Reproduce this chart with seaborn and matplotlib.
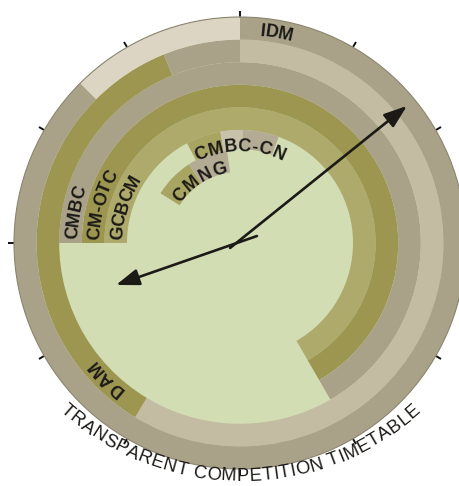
import numpy as np
import matplotlib
matplotlib.use('Agg')
import matplotlib.pyplot as plt
import seaborn as sns
from matplotlib.ft2font import FT2Font
from matplotlib.font_manager import FontProperties, findfont

sns.set_style('white')
plt.rcParams['font.family'] = ['Liberation Sans', 'DejaVu Sans']
plt.rcParams['xtick.top'] = True

# ring segments (radius in ring units, angles in degrees clockwise from 12 o'clock)
seg_inner = [5, 6, 7, 8, 8, 8, 9, 9, 4.15, 4.15, 4.15, 3.15, 3.15]
seg_outer = [6, 7, 8, 9, 9, 9, 10, 10, 5, 5, 5, 4.15, 4.15]
seg_start = [270, 270, 270, 211, 338, 0, 0, 315, -28, -10, 1.5, -58, -33]
seg_end = [510, 510, 510, 338, 360, 211, 315, 360, -10, 1.5, 20, -33, -8]
seg_tone = ['light olive', 'olive', 'tan', 'olive', 'tan', 'beige', 'tan', 'pale',
            'box olive', 'box light', 'box tan', 'box olive', 'box tan']

# labels written along the rings
lab_text = ['GCBCM', 'CM-OTC', 'CMBC', 'DAM', 'IDM', 'CMBC-CN', 'CMNG']
lab_r = [5.5, 6.5, 7.5, 8.5, 9.5, 4.36, 3.45]
lab_start = [271.5, 271.5, 271.5, 218, 5.5, -27.5, -57]
lab_track = [0, 0, 0, 1.5, 0, 1.2, 2.5]

title = 'TRANSPARENT COMPETITION TIMETABLE'

# clock hands (tail -> tip)
hand_tail_deg = [67.6, 243.4]
hand_tail_r = [0.81, 0.49]
hand_tip_deg = [251.3, 50.6]
hand_tip_r = [5.79, 9.56]

tones = {
    'light olive': '#adaa6b',
    'olive': '#9c9651',
    'tan': '#aaa288',
    'beige': '#c3bba2',
    'pale': '#ddd5c4',
    'box olive': '#a8a563',
    'box light': '#c9c2ab',
    'box tan': '#b3ab94',
}
ink = '#1c1a17'

W, H = 460, 486
fig = plt.figure(figsize=(W / 100, H / 100), dpi=100)
ax = fig.add_axes([14/W, 17/H, 452/W, 452/H], projection='polar')
ax.set_theta_zero_location('N')
ax.set_theta_direction(-1)
ax.set_facecolor('#d3ddb4')
PX = 226 / 10.0


def advances(text, size, weight):
    font = FT2Font(findfont(FontProperties(family='Liberation Sans', weight=weight)))
    font.set_size(size, 100)
    return np.array([font.load_char(ord(c)).linearHoriAdvance / 65536 for c in text])


def arc_text(text, start, r, size=13, weight='bold', track=0.0):
    adv = advances(text, size, weight) + track
    centers = np.cumsum(adv) - adv / 2
    r_px = r * PX
    cap = 0.716 * size * 100 / 72
    base = (r_px - cap / 2) / PX
    ang = start + np.degrees(centers / r_px)
    for ch, a in zip(text, ang):
        ax.text(np.deg2rad(a), base, ch, rotation=-a, rotation_mode='anchor',
                ha='center', va='baseline', fontsize=size, fontweight=weight,
                color=ink, zorder=5)


for ri, ro, s, e, t in zip(seg_inner, seg_outer, seg_start, seg_end, seg_tone):
    ax.bar(np.deg2rad((s + e) / 2), ro - ri, width=np.deg2rad(e - s), bottom=ri,
           color=tones[t], edgecolor='none', linewidth=0, zorder=2)

for txt, r, s, tr in zip(lab_text, lab_r, lab_start, lab_track):
    arc_text(txt, s, r, track=tr)

# curved title below the dial (its own, flatter arc; pixel units from top-left)
t_size = 13.2
t_adv = advances(title, t_size, 'normal') + 0.3
t_cx, t_cy, t_R = 240.5, 212.5, 262
t_cap = 0.716 * t_size * 100 / 72
t_pos = np.cumsum(t_adv) - t_adv / 2 - t_adv.sum() / 2
for ch, s in zip(title, t_pos):
    a = s / t_R
    x = t_cx + (t_R + t_cap / 2) * np.sin(a)
    y = t_cy + (t_R + t_cap / 2) * np.cos(a)
    fig.text(x / W, 1 - y / H, ch, rotation=np.degrees(a), rotation_mode='anchor',
             ha='center', va='baseline', fontsize=t_size, color=ink, zorder=5)

for td, tr, pd_, pr in zip(hand_tail_deg, hand_tail_r, hand_tip_deg, hand_tip_r):
    ax.annotate('', xy=(np.deg2rad(pd_), pr), xytext=(np.deg2rad(td), tr),
                arrowprops=dict(arrowstyle='-|>,head_length=0.7,head_width=0.25',
                                lw=1.9, color=ink, shrinkA=0, shrinkB=0,
                                mutation_scale=20), zorder=6)

ax.set_ylim(0, 10)
ax.set_yticks([])
ax.set_xticks(np.deg2rad(np.arange(0, 360, 30)))
ax.set_xticklabels([])
ax.tick_params(axis='x', which='major', bottom=False, top=True, direction='out',
               length=4, width=1.4, color='#111111')
ax.grid(False)
ax.spines['polar'].set_color('#8a8470')
ax.spines['polar'].set_linewidth(0.8)

fig.savefig('out.png', dpi=100)
